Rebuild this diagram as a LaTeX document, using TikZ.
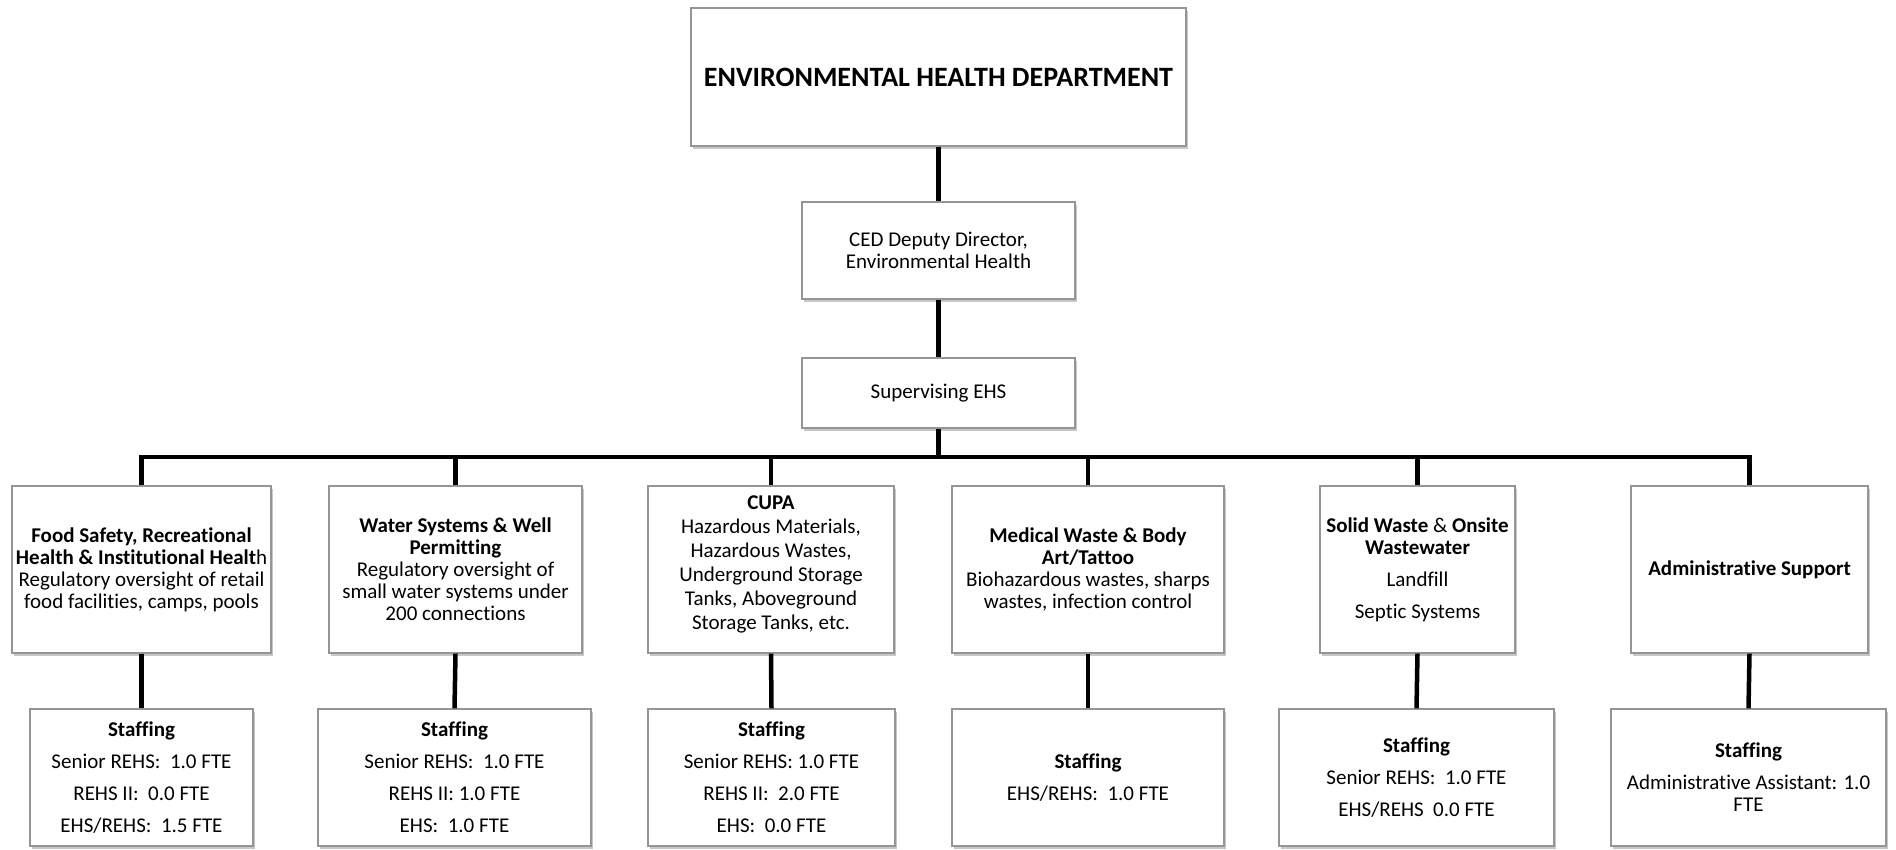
\documentclass[tikz,border=0pt]{standalone}
\usepackage{fontspec}
\setmainfont{Carlito}[Ligatures=NoCommon]
\usetikzlibrary{shadows}
\definecolor{boxgray}{HTML}{959595}
\begin{document}
\begin{tikzpicture}[x=1pt,y=-1pt,
  box/.style={draw=boxgray, line width=1.3pt, fill=white, align=center, inner sep=2pt,
    font=\fontsize{21}{22}\selectfont,
    drop shadow={shadow xshift=2pt, shadow yshift=-3pt, fill=black, opacity=0.22}},
  conn/.style={line width=4.5pt, black, line join=miter}]
\useasboundingbox (0,0) rectangle (1896,850);
\fill[white] (0,0) rectangle (1896,850);

% top levels
\node[box, minimum width=495pt, minimum height=138pt,
  font=\fontsize{28}{32}\selectfont\bfseries] (top) at (938.5,77) {ENVIRONMENTAL HEALTH DEPARTMENT};
\node[box, minimum width=273pt, minimum height=97pt] (ced) at (938.5,250.5)
  {CED Deputy Director,\\Environmental Health};
\node[box, minimum width=273pt, minimum height=70pt] (sup) at (938.5,393)
  {Supervising EHS};

% level 3
\node[box, minimum width=259pt, minimum height=167pt] (food) at (141.5,569.5)
  {\textbf{Food Safety, Recreational}\\\textbf{Health \& Institutional Healt}h\\Regulatory oversight of retail\\food facilities, camps, pools};
\node[box, minimum width=253pt, minimum height=167pt] (water) at (455.5,569.5)
  {\textbf{Water Systems \& Well}\\\textbf{Permitting}\\Regulatory oversight of\\small water systems under\\200 connections};
\node[box, minimum width=246pt, minimum height=167pt, font=\fontsize{21}{24}\selectfont] (cupa) at (771,569.5)
  {\textbf{CUPA}\\Hazardous Materials,\\Hazardous Wastes,\\Underground Storage\\Tanks, Aboveground\\Storage Tanks, etc.\\[-11pt]\mbox{}};
\node[box, minimum width=272pt, minimum height=167pt] (med) at (1088,569.5)
  {\textbf{Medical Waste \& Body}\\\textbf{Art/Tattoo}\\Biohazardous wastes, sharps\\wastes, infection control};
\node[box, minimum width=195pt, minimum height=167pt] (solid) at (1417.5,569.5)
  {\textbf{Solid Waste} \& \textbf{Onsite}\\\textbf{Wastewater}\\[10pt]Landfill\\[10pt]Septic Systems};
\node[box, minimum width=237pt, minimum height=167pt] (admin) at (1749.5,569.5)
  {\textbf{Administrative Support}};

% level 4
\node[box, minimum width=223pt, minimum height=137pt] (sfood) at (141.5,777.5)
  {\textbf{Staffing}\\[10pt]Senior REHS:\ \ 1.0 FTE\\[10pt]REHS II:\ \ 0.0 FTE\\[10pt]EHS/REHS:\ \ 1.5 FTE};
\node[box, minimum width=273pt, minimum height=137pt] (swater) at (454.5,777.5)
  {\textbf{Staffing}\\[10pt]Senior REHS:\ \ 1.0 FTE\\[10pt]REHS II: 1.0 FTE\\[10pt]EHS:\ \ 1.0 FTE};
\node[box, minimum width=247pt, minimum height=137pt] (scupa) at (771.5,777.5)
  {\textbf{Staffing}\\[10pt]Senior REHS: 1.0 FTE\\[10pt]REHS II:\ \ 2.0 FTE\\[10pt]EHS:\ \ 0.0 FTE};
\node[box, minimum width=272pt, minimum height=137pt] (smed) at (1088,777.5)
  {\textbf{Staffing}\\[10pt]EHS/REHS:\ \ 1.0 FTE};
\node[box, minimum width=275pt, minimum height=137pt] (ssolid) at (1416.5,777.5)
  {\textbf{Staffing}\\[10pt]Senior REHS:\ \ 1.0 FTE\\[10pt]EHS/REHS\ \ 0.0 FTE};
\node[box, minimum width=275pt, minimum height=137pt] (sadmin) at (1748.5,777.5)
  {\textbf{Staffing}\\[10pt]Administrative Assistant: 1.0\\FTE};

% connectors
\coordinate (bar) at (0,457);
\draw[conn] (top.south) -- (ced.north);
\draw[conn] (ced.south) -- (sup.north);
\draw[conn] (sup.south) -- (sup.south |- bar);
\draw[conn] (food.north) -- (food.north |- bar) -- (admin.north |- bar) -- (admin.north);
\foreach \n in {water,cupa,med,solid}
  \draw[conn] (\n.north |- bar) -- (\n.north);
\foreach \a/\b in {food/sfood,water/swater,cupa/scupa,med/smed,solid/ssolid,admin/sadmin}
  \draw[conn] (\a.south) -- (\b.north);
\end{tikzpicture}
\end{document}
